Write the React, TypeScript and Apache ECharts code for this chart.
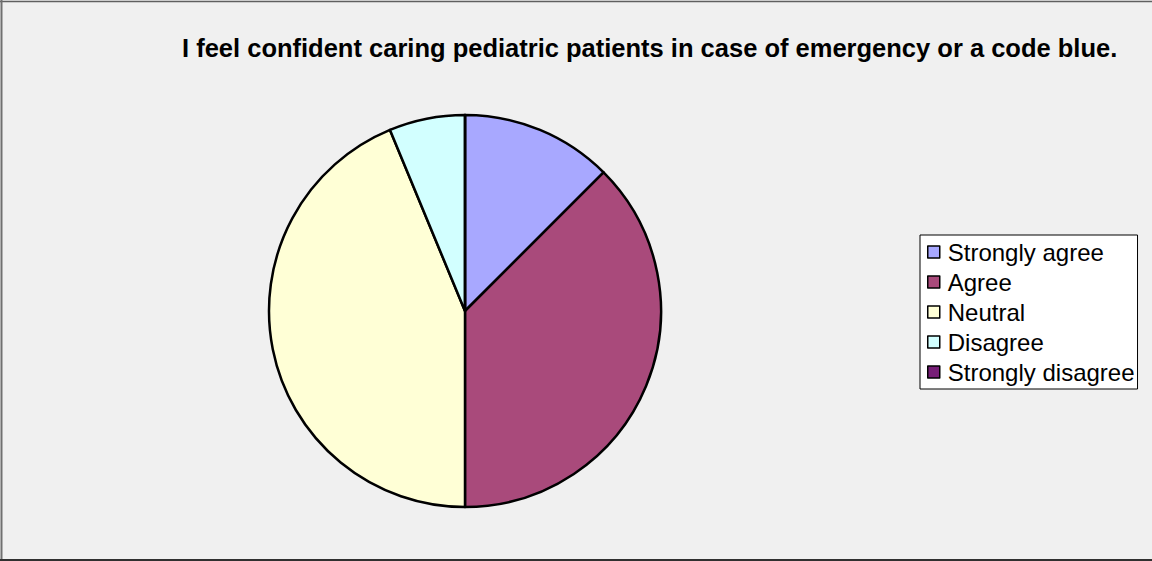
import React, { useEffect, useRef } from "react";
import * as echarts from "echarts";

const titleText = "I feel confident caring pediatric patients in case of emergency or a code blue.";
const categories = ["Strongly agree", "Agree", "Neutral", "Disagree", "Strongly disagree"];
const counts = [2, 6, 7, 1, 0];
const colors = ["#a8a8ff", "#a94a7b", "#ffffd6", "#d2ffff", "#771e77"];

export default function App() {
  const ref = useRef<HTMLDivElement>(null);
  useEffect(() => {
    if (!ref.current) return;
    const chart = echarts.init(ref.current, null, { renderer: "svg" });
    chart.setOption({
      animation: false,
      backgroundColor: "#f0f0f0",
      color: colors,
      graphic: [
        {
          type: "line",
          shape: { x1: 0, y1: 1.5, x2: 1152, y2: 1.5 },
          style: { stroke: "#606060", lineWidth: 1.5 },
          silent: true,
        },
        {
          type: "line",
          shape: { x1: 1.5, y1: 0, x2: 1.5, y2: 561 },
          style: { stroke: "#707070", lineWidth: 2 },
          silent: true,
        },
        {
          type: "line",
          shape: { x1: 0, y1: 560, x2: 1152, y2: 560 },
          style: { stroke: "#303030", lineWidth: 2 },
          silent: true,
        },
        {
          type: "text",
          left: 182,
          top: 35,
          style: {
            text: titleText,
            fontFamily: "Liberation Sans, Arial, sans-serif",
            fontSize: 25.5,
            fontWeight: "bold",
            fill: "#000",
          },
        },
      ],
      legend: {
        orient: "vertical",
        left: 920,
        top: 235,
        backgroundColor: "#ffffff",
        borderColor: "#000000",
        borderWidth: 1,
        padding: [5, 3, 5, 7],
        itemGap: 6,
        itemWidth: 12,
        itemHeight: 12,
        icon: "rect",
        itemStyle: { borderColor: "#000", borderWidth: 1.5 },
        textStyle: {
          fontFamily: "Liberation Sans, Arial, sans-serif",
          fontSize: 24,
          color: "#000",
          padding: [0, 0, 0, 3],
        },
        data: categories,
      },
      series: [
        {
          type: "pie",
          center: [465, 311],
          radius: 196,
          startAngle: 90,
          clockwise: true,
          label: { show: false },
          labelLine: { show: false },
          emphasis: { disabled: true },
          itemStyle: { borderColor: "#000", borderWidth: 2.5 },
          data: categories.map((c, i) => ({ name: c, value: counts[i] })),
        },
      ],
    });
    return () => chart.dispose();
  }, []);
  return (
    <div
      ref={ref}
      style={{ position: "absolute", left: 0, top: 0, width: 1152, height: 561 }}
    />
  );
}
